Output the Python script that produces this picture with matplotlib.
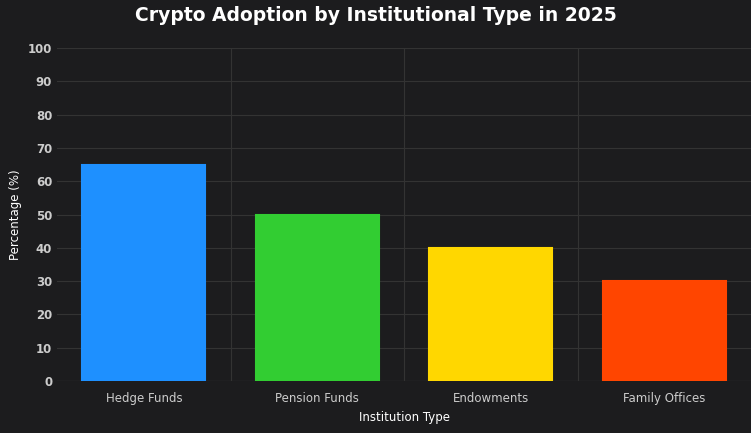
import matplotlib.pyplot as plt

# data
institutions = ['Hedge Funds', 'Pension Funds', 'Endowments', 'Family Offices']
adoption = [65, 50, 40, 30]
bar_colors = ['#1E90FF', '#32CD32', '#FFD700', '#FF4500']

bg = '#1c1c1e'
fig = plt.figure(figsize=(7.51, 4.33), dpi=100, facecolor=bg)
ax = fig.add_axes([0.076, 0.12, 0.924, 0.769], facecolor=bg)

x = range(len(institutions))
ax.bar(x, adoption, width=0.71, color=bar_colors, edgecolor=bar_colors, linewidth=1.5, zorder=3)

ax.set_xlim(-0.5, len(institutions) - 0.5)
ax.set_ylim(0, 100)
ax.set_yticks(range(0, 101, 10))
ax.set_xticks(list(x))
ax.set_xticklabels(institutions, color='#cccccc', fontsize=8.5)
ax.tick_params(axis='y', colors='#cccccc', labelsize=8.5, length=0)
ax.tick_params(axis='x', length=0, pad=8)
for lbl in ax.get_yticklabels():
    lbl.set_fontweight('bold')

# vertical grid lines between categories
for b in [0.5, 1.5, 2.5]:
    ax.axvline(b, color='#333333', linewidth=0.8, zorder=0)
ax.grid(axis='y', color='#333333', linewidth=0.8, zorder=0)
for s in ax.spines.values():
    s.set_visible(False)
ax.axhline(0, color='#444444', linewidth=0.8, zorder=1)

ax.set_xlabel('Institution Type', color='white', fontsize=8.5)
ax.set_ylabel('Percentage (%)', color='white', fontsize=8.5)
fig.suptitle('Crypto Adoption by Institutional Type in 2025', color='white',
             fontsize=13.5, fontweight='bold', y=0.985)

plt.savefig('out.png', facecolor=bg)
